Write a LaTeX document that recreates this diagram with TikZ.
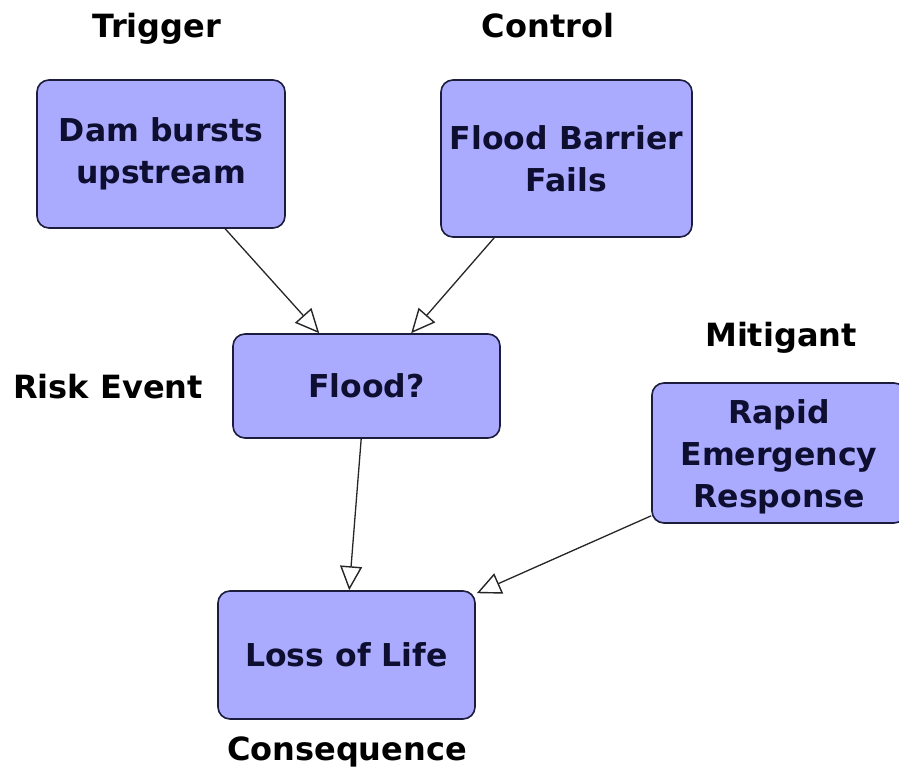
\documentclass[tikz,border=0pt]{standalone}
\usepackage{fontspec}
\setmainfont{DejaVu Sans}
\usetikzlibrary{arrows.meta,calc}
\definecolor{boxfill}{HTML}{AAAAFF}
\definecolor{boxline}{HTML}{1C1C3C}
\definecolor{boxtext}{HTML}{0E0E30}
\begin{document}
\begin{tikzpicture}[x=1pt,y=1pt,
  stepbox/.style={draw=boxline, line width=1.6pt, fill=boxfill, rounded corners=12pt,
    align=center, text=boxtext, inner sep=0pt,
    font=\fontsize{31.5}{42}\selectfont\bfseries},
  tag/.style={text=black, inner sep=0pt, font=\fontsize{32}{40}\selectfont\bfseries},
  link/.style={line width=1.3pt, draw=black!85,
    -{Triangle[open, length=24pt, width=22pt, line width=1.4pt, fill=white]}}]
  \clip (0,0) rectangle (899,770);
  \fill[white] (0,0) rectangle (899,770);

  % boxes
  \node[stepbox, minimum width=248pt, minimum height=148pt] (dam) at (161,616) {Dam bursts\\upstream};
  \node[stepbox, minimum width=251pt, minimum height=157pt] (barrier) at (566.5,611.5) {Flood Barrier\\Fails};
  \node[stepbox, minimum width=267pt, minimum height=104pt] (flood) at (366.5,384) {Flood?};
  \node[stepbox, minimum width=254pt, minimum height=140pt] (rapid) at (779,317) {};
  \node[align=center, text=boxtext, inner sep=0pt, font=\fontsize{31.5}{42}\selectfont\bfseries]
    (rapidtext) at ($(rapid.center)+(0,-4)$) {Rapid\\Emergency\\Response};
  \node[stepbox, minimum width=257pt, minimum height=128pt] (loss) at (346.5,115) {Loss of Life};

  % role labels
  \node[tag] (ltrigger) at (157,741) {Trigger};
  \node[tag] (lcontrol) at (548,744) {Control};
  \node[tag] (lrisk) at (108,383) {Risk Event};
  \node[tag] (lmitigant) at (781,432) {Mitigant};
  \node[tag] (lconseq) at (347,18) {Consequence};

  % influence arrows
  \draw[link] ($(dam.south west)+(189,0)$) -- ($(flood.north west)+(87,0)$);
  \draw[link] ($(barrier.south west)+(54,0)$) -- ($(flood.north west)+(179,0)$);
  \draw[link] ($(flood.south west)+(129,0)$) -- ($(loss.north west)+(132,0)$);
  \draw[link] ($(rapid.south west)+(0,8)$) -- ($(loss.north east)+(1,-3)$);
\end{tikzpicture}
\end{document}
